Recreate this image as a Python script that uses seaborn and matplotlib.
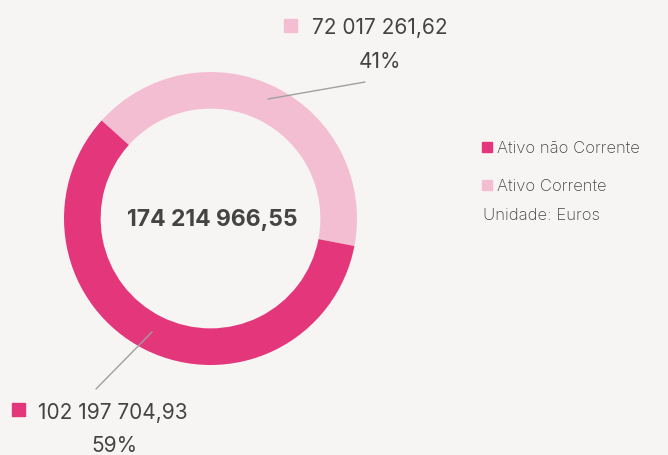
import matplotlib.pyplot as plt
import seaborn as sns
from matplotlib.patches import Rectangle

sns.set_theme(style="white")
plt.rcParams["font.family"] = ["Inter", "DejaVu Sans"]

# data
categories = ["Ativo Corrente", "Ativo não Corrente"]
values = [72017261.62, 102197704.93]
value_labels = ["72 017 261,62", "102 197 704,93"]
pct_labels = ["41%", "59%"]
total_label = "174 214 966,55"
unit_label = "Unidade: Euros"

bg = "#f7f5f3"
colors = {"Ativo Corrente": "#f3bed1", "Ativo não Corrente": "#e4367b"}
text_col = "#444444"

W, H = 668, 456
R = 146.5
cx, cy = 210.5, 219.5

fig = plt.figure(figsize=(W / 100, H / 100), dpi=100, facecolor=bg)
ax = fig.add_axes([0, 0, 1, 1])
ax.set_facecolor(bg)
ax.pie(
    values,
    colors=[colors[c] for c in categories],
    startangle=138,
    counterclock=False,
    radius=1.0,
    wedgeprops=dict(width=0.25, edgecolor="none"),
)
ax.set_xlim(-cx / R, (W - cx) / R)
ax.set_ylim(-(H - cy) / R, cy / R)
ax.set_aspect("equal")
ax.axis("off")


def fx(x):
    return x / W


def fy(y):
    return 1 - y / H


# center total
fig.text(fx(cx + 2), fy(220), total_label, ha="center", va="center",
         fontsize=16.5, fontweight="bold", color=text_col)

# leader lines
ax.plot([(268 - cx) / R, (365 - cx) / R], [(cy - 100) / R, (cy - 83) / R],
        color="#a0a0a0", lw=1)
ax.plot([(152 - cx) / R, (96 - cx) / R], [(cy - 333) / R, (cy - 390) / R],
        color="#a0a0a0", lw=1)

# outer labels
label_pos = {
    "Ativo Corrente": ((284, 20), (312, 28), (380, 62)),
    "Ativo não Corrente": ((12, 404), (38, 413), (114, 446)),
}
for cat, vl, pl in zip(categories, value_labels, pct_labels):
    (sx, sy), (tx, ty), (px, py) = label_pos[cat]
    fig.patches.append(Rectangle((fx(sx), fy(sy + 13)), 13 / W, 13 / H,
                                 transform=fig.transFigure, color=colors[cat]))
    fig.text(fx(tx), fy(ty), vl, ha="left", va="center", fontsize=15, color=text_col)
    fig.text(fx(px), fy(py), pl, ha="center", va="center", fontsize=15, color=text_col)

# legend
leg_items = [("Ativo não Corrente", 148), ("Ativo Corrente", 186)]
for cat, y in leg_items:
    fig.patches.append(Rectangle((fx(482), fy(y + 5)), 10 / W, 10 / H,
                                 transform=fig.transFigure, color=colors[cat]))
    fig.text(fx(497), fy(y), cat, ha="left", va="center", fontsize=12,
             color=text_col, fontweight="light")
fig.text(fx(483), fy(215), unit_label, ha="left", va="center", fontsize=12,
         color=text_col, fontweight="light")

fig.savefig("out.png", dpi=100, facecolor=bg)
